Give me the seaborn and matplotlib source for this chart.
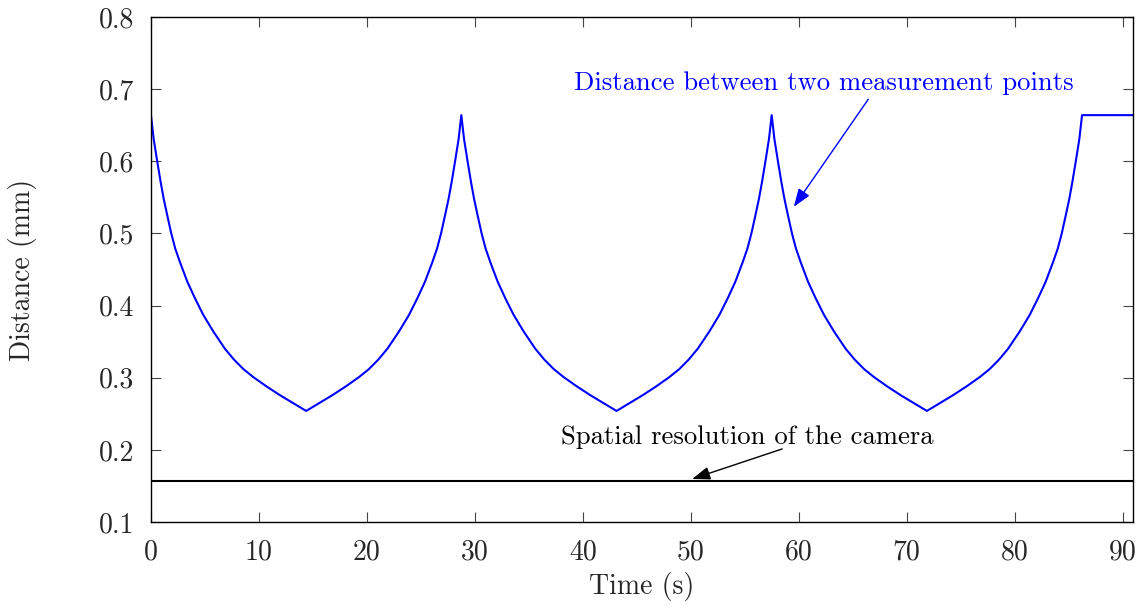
import numpy as np
import pandas as pd
import seaborn as sns
import matplotlib.pyplot as plt

# distance curve (time in s, distance in mm)
time_s = [
    0.00, 0.25, 0.59, 0.90, 1.18, 1.51, 1.88, 2.25, 2.69, 3.37, 4.08, 4.85, 5.78, 6.86, 7.70, 8.56, 9.47, 10.70, 11.93, 13.15, 14.38,
    15.60, 16.82, 18.05, 19.28, 20.19, 21.05, 21.89, 22.97, 23.90, 24.67, 25.38, 26.06, 26.50, 26.87, 27.24, 27.57, 27.85, 28.16, 28.50, 28.75,
    29.00, 29.34, 29.65, 29.93, 30.26, 30.63, 31.00, 31.44, 32.12, 32.83, 33.60, 34.53, 35.61, 36.45, 37.31, 38.22, 39.45, 40.68, 41.90, 43.13,
    44.35, 45.57, 46.80, 48.03, 48.94, 49.80, 50.64, 51.72, 52.65, 53.42, 54.13, 54.81, 55.25, 55.62, 55.99, 56.32, 56.60, 56.91, 57.25, 57.50,
    57.75, 58.09, 58.40, 58.68, 59.01, 59.38, 59.75, 60.19, 60.87, 61.58, 62.35, 63.28, 64.36, 65.20, 66.06, 66.97, 68.20, 69.43, 70.65, 71.88,
    73.10, 74.32, 75.55, 76.78, 77.69, 78.55, 79.39, 80.47, 81.40, 82.17, 82.88, 83.56, 84.00, 84.37, 84.74, 85.07, 85.35, 85.66, 86.00, 86.25,
    91.00,
]
distance_mm = [
    0.664, 0.631, 0.599, 0.571, 0.548, 0.525, 0.500, 0.479, 0.460, 0.433, 0.410, 0.387, 0.364, 0.340, 0.325, 0.312, 0.301, 0.288, 0.276, 0.265, 0.254,
    0.265, 0.276, 0.288, 0.301, 0.312, 0.325, 0.340, 0.364, 0.387, 0.410, 0.433, 0.460, 0.479, 0.500, 0.525, 0.548, 0.571, 0.599, 0.631, 0.664,
    0.631, 0.599, 0.571, 0.548, 0.525, 0.500, 0.479, 0.460, 0.433, 0.410, 0.387, 0.364, 0.340, 0.325, 0.312, 0.301, 0.288, 0.276, 0.265, 0.254,
    0.265, 0.276, 0.288, 0.301, 0.312, 0.325, 0.340, 0.364, 0.387, 0.410, 0.433, 0.460, 0.479, 0.500, 0.525, 0.548, 0.571, 0.599, 0.631, 0.664,
    0.631, 0.599, 0.571, 0.548, 0.525, 0.500, 0.479, 0.460, 0.433, 0.410, 0.387, 0.364, 0.340, 0.325, 0.312, 0.301, 0.288, 0.276, 0.265, 0.254,
    0.265, 0.276, 0.288, 0.301, 0.312, 0.325, 0.340, 0.364, 0.387, 0.410, 0.433, 0.460, 0.479, 0.500, 0.525, 0.548, 0.571, 0.599, 0.631, 0.664,
    0.664,
]
camera_resolution = 0.157

x_ticks = [0, 10, 20, 30, 40, 50, 60, 70, 80, 90]
y_ticks = [0.1, 0.2, 0.3, 0.4, 0.5, 0.6, 0.7, 0.8]

df = pd.DataFrame({"time": time_s, "distance": distance_mm})

sns.set_theme(style="ticks")
plt.rcParams["font.family"] = ["cmr10", "DejaVu Serif"]
plt.rcParams["axes.formatter.use_mathtext"] = True
plt.rcParams["mathtext.fontset"] = "cm"

fig = plt.figure(figsize=(11.42, 6.08), dpi=100)
ax = fig.add_axes([0.1322, 0.1414, 0.8602, 0.8306])

sns.lineplot(data=df, x="time", y="distance", color="#0000ff", linewidth=1.5,
             estimator=None, sort=False, ax=ax)
ax.axhline(camera_resolution, color="black", linewidth=1.5)

ax.set_xlim(0, 91)
ax.set_ylim(0.1, 0.8)
ax.set_xticks(x_ticks)
ax.set_yticks(y_ticks)
ax.set_xticklabels([str(t) for t in x_ticks])
ax.set_yticklabels([f"{t:.1f}" for t in y_ticks])
ax.tick_params(direction="in", length=7, width=0.8, color="#444444",
               top=True, right=True, labelsize=20, pad=12)
for s in ax.spines.values():
    s.set_linewidth(1.0)
    s.set_color("black")

ax.set_xlabel("Time (s)", fontsize=20, labelpad=5)
ax.set_ylabel("Distance (mm)", fontsize=20)
ax.yaxis.set_label_coords(-0.116, 0.5)

arrow_head = "-|>,head_length=0.55,head_width=0.2"

ax.text(62.35, 0.709, "Distance between two measurement points", color="#0000ff",
        fontsize=19.2, ha="center", va="center")
ax.annotate("", xy=(59.55, 0.537), xytext=(66.45, 0.686),
            arrowprops=dict(arrowstyle=arrow_head, color="#0000ff", lw=1.0,
                            shrinkA=0, shrinkB=0, mutation_scale=20))

ax.text(55.26, 0.217, "Spatial resolution of the camera", color="black",
        fontsize=19.2, ha="center", va="center")
ax.annotate("", xy=(50.13, 0.1597), xytext=(58.47, 0.2013),
            arrowprops=dict(arrowstyle=arrow_head, color="black", lw=1.0,
                            shrinkA=0, shrinkB=0, mutation_scale=20))

fig.savefig("out.png", dpi=100)
